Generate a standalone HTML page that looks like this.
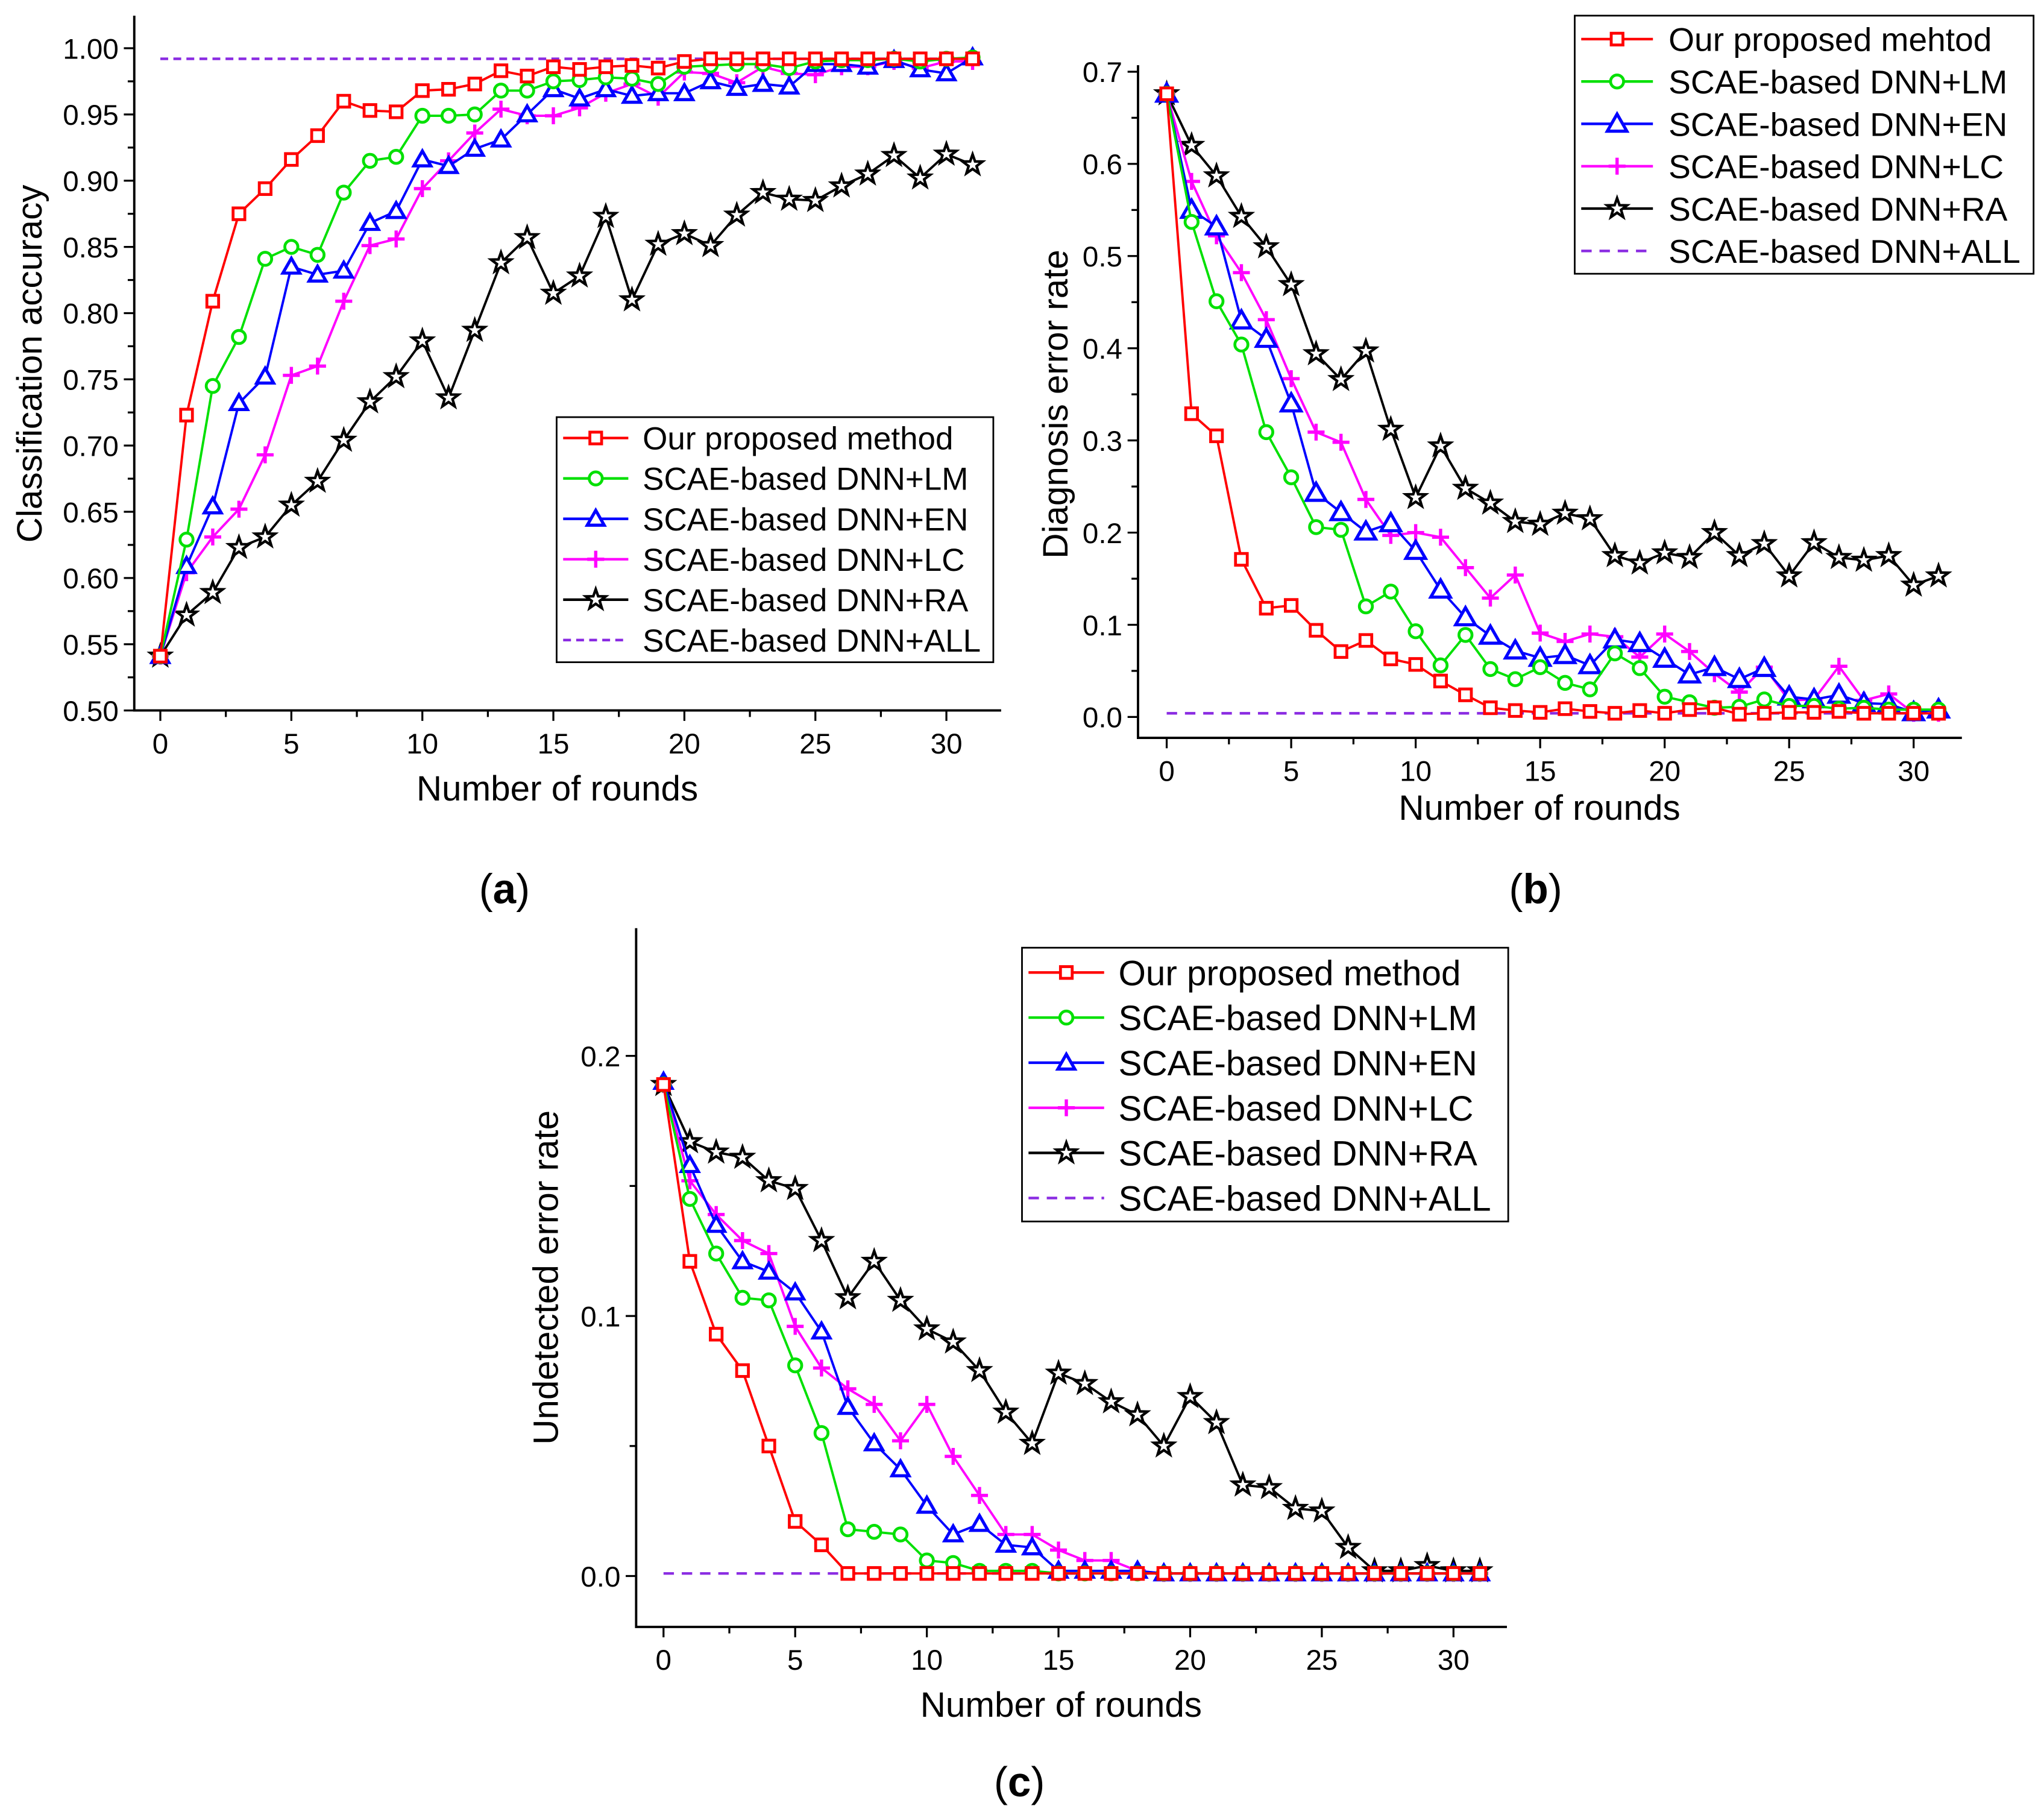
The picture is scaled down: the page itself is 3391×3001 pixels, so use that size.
<!DOCTYPE html>
<html><head><meta charset="utf-8"><style>
html,body{margin:0;padding:0;background:#fff;}
svg{display:block;}
text{font-family:"Liberation Sans",Arial,sans-serif;}
</style></head><body>
<svg id="fig" width="3391" height="3001" viewBox="0 0 1568 1387.7" preserveAspectRatio="none" xmlns="http://www.w3.org/2000/svg"></svg>
<script>
const rounds = Array.from({length:32},(_,i)=>i);
const seriesNames = ["Our proposed method","SCAE-based DNN+LM","SCAE-based DNN+EN","SCAE-based DNN+LC","SCAE-based DNN+RA","SCAE-based DNN+ALL"];
const seriesNamesB = ["Our proposed mehtod","SCAE-based DNN+LM","SCAE-based DNN+EN","SCAE-based DNN+LC","SCAE-based DNN+RA","SCAE-based DNN+ALL"];
const xTicks = [0,5,10,15,20,25,30];
const yTicksA = [0.50,0.55,0.60,0.65,0.70,0.75,0.80,0.85,0.90,0.95,1.00];
const yTicksB = [0.0,0.1,0.2,0.3,0.4,0.5,0.6,0.7];
const yTicksC = [0.0,0.1,0.2];

const aRed = [0.541,0.723,0.809,0.875,0.894,0.916,0.934,0.960,0.953,0.952,0.968,0.969,0.973,0.983,0.979,0.986,0.984,0.986,0.987,0.985,0.990,0.992,0.992,0.992,0.992,0.992,0.992,0.992,0.992,0.992,0.992,0.992];
const aGreen = [0.541,0.629,0.745,0.782,0.841,0.850,0.844,0.891,0.915,0.918,0.949,0.949,0.950,0.968,0.968,0.975,0.976,0.978,0.977,0.973,0.986,0.987,0.988,0.988,0.985,0.990,0.991,0.991,0.992,0.990,0.992,0.993];
const aBlue = [0.541,0.609,0.654,0.732,0.752,0.835,0.829,0.832,0.868,0.877,0.916,0.911,0.924,0.931,0.950,0.969,0.962,0.969,0.964,0.966,0.966,0.975,0.970,0.973,0.971,0.988,0.988,0.986,0.991,0.984,0.981,0.993];
const aMag = [0.541,0.604,0.631,0.652,0.693,0.753,0.760,0.809,0.851,0.856,0.894,0.915,0.936,0.954,0.949,0.949,0.955,0.966,0.973,0.963,0.982,0.981,0.974,0.986,0.981,0.980,0.986,0.986,0.990,0.985,0.990,0.990];
const aBlack = [0.541,0.572,0.589,0.623,0.631,0.655,0.673,0.704,0.733,0.752,0.779,0.736,0.787,0.838,0.857,0.815,0.828,0.873,0.810,0.852,0.860,0.851,0.874,0.891,0.886,0.885,0.896,0.905,0.919,0.902,0.920,0.912];
const aAll = 0.992;

const bRed = [0.676,0.329,0.305,0.171,0.118,0.121,0.094,0.071,0.083,0.063,0.057,0.039,0.024,0.010,0.007,0.005,0.009,0.006,0.004,0.007,0.004,0.008,0.010,0.003,0.004,0.005,0.005,0.006,0.004,0.004,0.004,0.004];
const bGreen = [0.676,0.537,0.451,0.404,0.309,0.260,0.206,0.203,0.120,0.136,0.093,0.056,0.089,0.052,0.041,0.054,0.037,0.030,0.069,0.053,0.022,0.016,0.010,0.011,0.019,0.012,0.012,0.009,0.010,0.008,0.008,0.008];
const bBlue = [0.676,0.550,0.532,0.430,0.410,0.340,0.243,0.222,0.201,0.210,0.180,0.138,0.108,0.088,0.072,0.064,0.067,0.056,0.084,0.080,0.063,0.046,0.054,0.041,0.053,0.022,0.019,0.024,0.015,0.014,0.005,0.008];
const bMag = [0.676,0.581,0.522,0.482,0.431,0.367,0.309,0.298,0.236,0.197,0.200,0.195,0.162,0.129,0.154,0.091,0.082,0.090,0.087,0.065,0.090,0.071,0.047,0.027,0.054,0.018,0.019,0.055,0.018,0.025,0.004,0.004];
const bBlack = [0.676,0.620,0.587,0.543,0.510,0.469,0.394,0.366,0.397,0.312,0.238,0.294,0.248,0.232,0.212,0.209,0.221,0.215,0.175,0.167,0.178,0.173,0.200,0.175,0.188,0.153,0.189,0.173,0.170,0.175,0.143,0.153];
const bAll = 0.004;

const cRed = [0.189,0.121,0.093,0.079,0.050,0.021,0.012,0.001,0.001,0.001,0.001,0.001,0.001,0.001,0.001,0.001,0.001,0.001,0.001,0.001,0.001,0.001,0.001,0.001,0.001,0.001,0.001,0.001,0.001,0.001,0.001,0.001];
const cGreen = [0.189,0.145,0.124,0.107,0.106,0.081,0.055,0.018,0.017,0.016,0.006,0.005,0.002,0.002,0.002,0.001,0.001,0.001,0.001,0.001,0.001,0.001,0.001,0.001,0.001,0.001,0.001,0.001,0.001,0.001,0.001,0.001];
const cBlue = [0.190,0.158,0.135,0.121,0.117,0.109,0.094,0.065,0.051,0.041,0.027,0.016,0.020,0.012,0.011,0.002,0.002,0.002,0.002,0.001,0.001,0.001,0.001,0.001,0.001,0.001,0.001,0.001,0.001,0.001,0.001,0.001];
const cMag = [0.189,0.152,0.139,0.129,0.124,0.096,0.080,0.072,0.066,0.052,0.066,0.046,0.031,0.016,0.016,0.010,0.006,0.006,0.002,0.001,0.001,0.001,0.001,0.001,0.001,0.001,0.001,0.001,0.001,0.001,0.001,0.001];
const cBlack = [0.189,0.167,0.163,0.161,0.152,0.149,0.129,0.107,0.121,0.106,0.095,0.090,0.079,0.063,0.051,0.078,0.074,0.067,0.062,0.050,0.069,0.059,0.035,0.034,0.026,0.025,0.011,0.002,0.002,0.004,0.002,0.002];
const cAll = 0.001;

const NS="http://www.w3.org/2000/svg";
const svg=document.getElementById('fig');
function mk(tag,attrs,parent){const e=document.createElementNS(NS,tag);for(const k in attrs)e.setAttribute(k,attrs[k]);(parent||svg).appendChild(e);return e;}
const colors=["#ff0000","#00e000","#0000ff","#ff00ff","#000000","#8a2be2"];
const markers=["square","circle","triangle","plus","star",null];

function marker(g,type,x,y,col,s){
  let e;
  if(type==="square"){e=mk('rect',{x:x-4.5,y:y-4.5,width:9,height:9,fill:'#fff',stroke:col,'stroke-width':2.2},g);}
  else if(type==="circle"){e=mk('circle',{cx:x,cy:y,r:5,fill:'#fff',stroke:col,'stroke-width':2.2},g);}
  else if(type==="triangle"){const r=s||6.5;e=mk('polygon',{points:`${x},${y-r} ${x-r},${y+r*0.75} ${x+r},${y+r*0.75}`,fill:'#fff',stroke:col,'stroke-width':2.4},g);}
  else if(type==="plus"){e=mk('path',{d:`M${x-6.5},${y}H${x+6.5}M${x},${y-6.5}V${y+6.5}`,stroke:col,'stroke-width':2.5,fill:'none'},g);}
  else if(type==="star"){let p=[];for(let i=0;i<10;i++){const r=i%2?3.2:8;const a=-Math.PI/2+i*Math.PI/5;p.push((x+r*Math.cos(a)).toFixed(2)+','+(y+r*Math.sin(a)).toFixed(2));}
    e=mk('polygon',{points:p.join(' '),fill:'#fff',stroke:col,'stroke-width':2},g);}
  
  
}

function chart(cfg){
  const g=mk('g',{});
  
  
  const X=v=>cfg.x0+(v-0)*(cfg.x30-cfg.x0)/30;
  const Y=v=>cfg.yb+(v-cfg.vmin)*(cfg.yt-cfg.yb)/(cfg.vmax-cfg.vmin);
  const ax=mk('path',{d:`M${cfg.L},${cfg.T}V${cfg.B}H${cfg.R}`,stroke:'#000','stroke-width':1.8,fill:'none'},g);
  
  for(let v=0;v<=32.5;v+=2.5){const x=X(v);if(x>cfg.R)break;const major=v%5===0;
    mk('line',{x1:x,y1:cfg.B,x2:x,y2:cfg.B+(major?8:5),stroke:'#000','stroke-width':1.5},g);}
  xTicks.forEach(v=>{const t=mk('text',{x:X(v),y:cfg.B+33,'font-size':22,'text-anchor':'middle'},g);t.textContent=v;
    });
  const tk=cfg.yticks, step=tk[1]-tk[0];
  for(let i=0;i<tk.length;i++){const y=Y(tk[i]);
    mk('line',{x1:cfg.L-8,y1:y,x2:cfg.L,y2:y,stroke:'#000','stroke-width':1.5},g);
    const t=mk('text',{x:cfg.L-12,y:y+8,'font-size':22,'text-anchor':'end'},g);t.textContent=tk[i].toFixed(cfg.dec);
    
    const ym=Y(tk[i]+step/2);if(ym>=cfg.T)mk('line',{x1:cfg.L-5,y1:ym,x2:cfg.L,y2:ym,stroke:'#000','stroke-width':1.5},g);
  }
  const ym0=Y(tk[0]-step/2);if(ym0<=cfg.B)mk('line',{x1:cfg.L-5,y1:ym0,x2:cfg.L,y2:ym0,stroke:'#000','stroke-width':1.5},g);
  const xt=mk('text',{x:(cfg.L+cfg.R)/2-8,y:cfg.xty,'font-size':27,'text-anchor':'middle'},g);xt.textContent='Number of rounds';
  
  const yt=mk('text',{x:cfg.ytx,y:cfg.yty,'font-size':27,'text-anchor':'middle',transform:`rotate(-90 ${cfg.ytx} ${cfg.yty})`},g);yt.textContent=cfg.ytitle;
  
  const ref=mk('line',{x1:X(0),y1:Y(cfg.all),x2:X(31),y2:Y(cfg.all),stroke:colors[5],'stroke-width':2,'stroke-dasharray':cfg.dash},g);
  
  const order=[4,3,2,1,0];
  order.forEach(si=>{const data=cfg.series[si];
    const sg=mk('g',{},g);
    
    
    const pl=mk('polyline',{points:data.map((v,i)=>X(rounds[i])+','+Y(v)).join(' '),fill:'none',stroke:colors[si],'stroke-width':1.8},sg);
    
    data.forEach((v,i)=>marker(sg,markers[si],X(rounds[i]),Y(v),colors[si],cfg.tri));
  });
  const lg=mk('g',{},g);
  
  const l=cfg.leg;
  mk('rect',{x:l.x,y:l.y,width:l.w,height:l.h,fill:'#fff',stroke:'#000','stroke-width':1.3},lg);
  cfg.names.forEach((n,i)=>{const y=l.r0+i*l.dy;
    const eg=mk('g',{},lg);
    mk('line',{x1:l.x+5,y1:y,x2:l.x+5+l.lw,y2:y,stroke:colors[i],'stroke-width':2,'stroke-dasharray':i===5?cfg.dash:'none'},eg);
    if(markers[i])marker(eg,markers[i],l.x+5+l.lw/2,y,colors[i],cfg.tri);
    const t=mk('text',{x:l.x+l.tx,y:y+l.fs*0.36,'font-size':l.fs},eg);t.textContent=n;
  });
  return g;
}

chart({name:'chart-a',L:103,R:768,T:12,B:545,x0:123,x30:726,vmin:0.50,vmax:1.00,yb:545,yt:37,yticks:yTicksA,dec:2,
  ytitle:'Classification accuracy',ytx:32,yty:279,xty:614,all:aAll,dash:'6,4',tri:6.5,
  series:[aRed,aGreen,aBlue,aMag,aBlack],names:seriesNames,
  leg:{x:427,y:320,w:335,h:188,r0:336,dy:31,lw:50,tx:66,fs:24.5}});
chart({name:'chart-b',L:873,R:1505,T:50,B:566,x0:895,x30:1468,vmin:0,vmax:0.7,yb:550,yt:55,yticks:yTicksB,dec:1,
  ytitle:'Diagnosis error rate',ytx:819,yty:310,xty:629,all:bAll,dash:'8,6',tri:7.5,
  series:[bRed,bGreen,bBlue,bMag,bBlack],names:seriesNamesB,
  leg:{x:1208,y:12,w:352,h:198,r0:30,dy:32.5,lw:55,tx:72,fs:25.5}});
chart({name:'chart-c',L:488,R:1156,T:712,B:1248,x0:509,x30:1115,vmin:0,vmax:0.2,yb:1209,yt:810,yticks:yTicksC,dec:1,
  ytitle:'Undetected error rate',ytx:428,yty:980,xty:1317,all:cAll,dash:'8,6',tri:6.5,
  series:[cRed,cGreen,cBlue,cMag,cBlack],names:seriesNames,
  leg:{x:784,y:727,w:373,h:210,r0:746,dy:34.6,lw:58,tx:74,fs:27}});

[['(a)',387,693],['(b)',1178,693],['(c)',782,1378]].forEach(([s,x,y])=>{
  const t=mk('text',{x:x,y:y,'font-size':32,'text-anchor':'middle','font-family':'"Liberation Serif",serif'});
  
  
  t.innerHTML='('+'<tspan font-weight="bold">'+s[1]+'</tspan>'+')';
});
</script>
</body></html>
